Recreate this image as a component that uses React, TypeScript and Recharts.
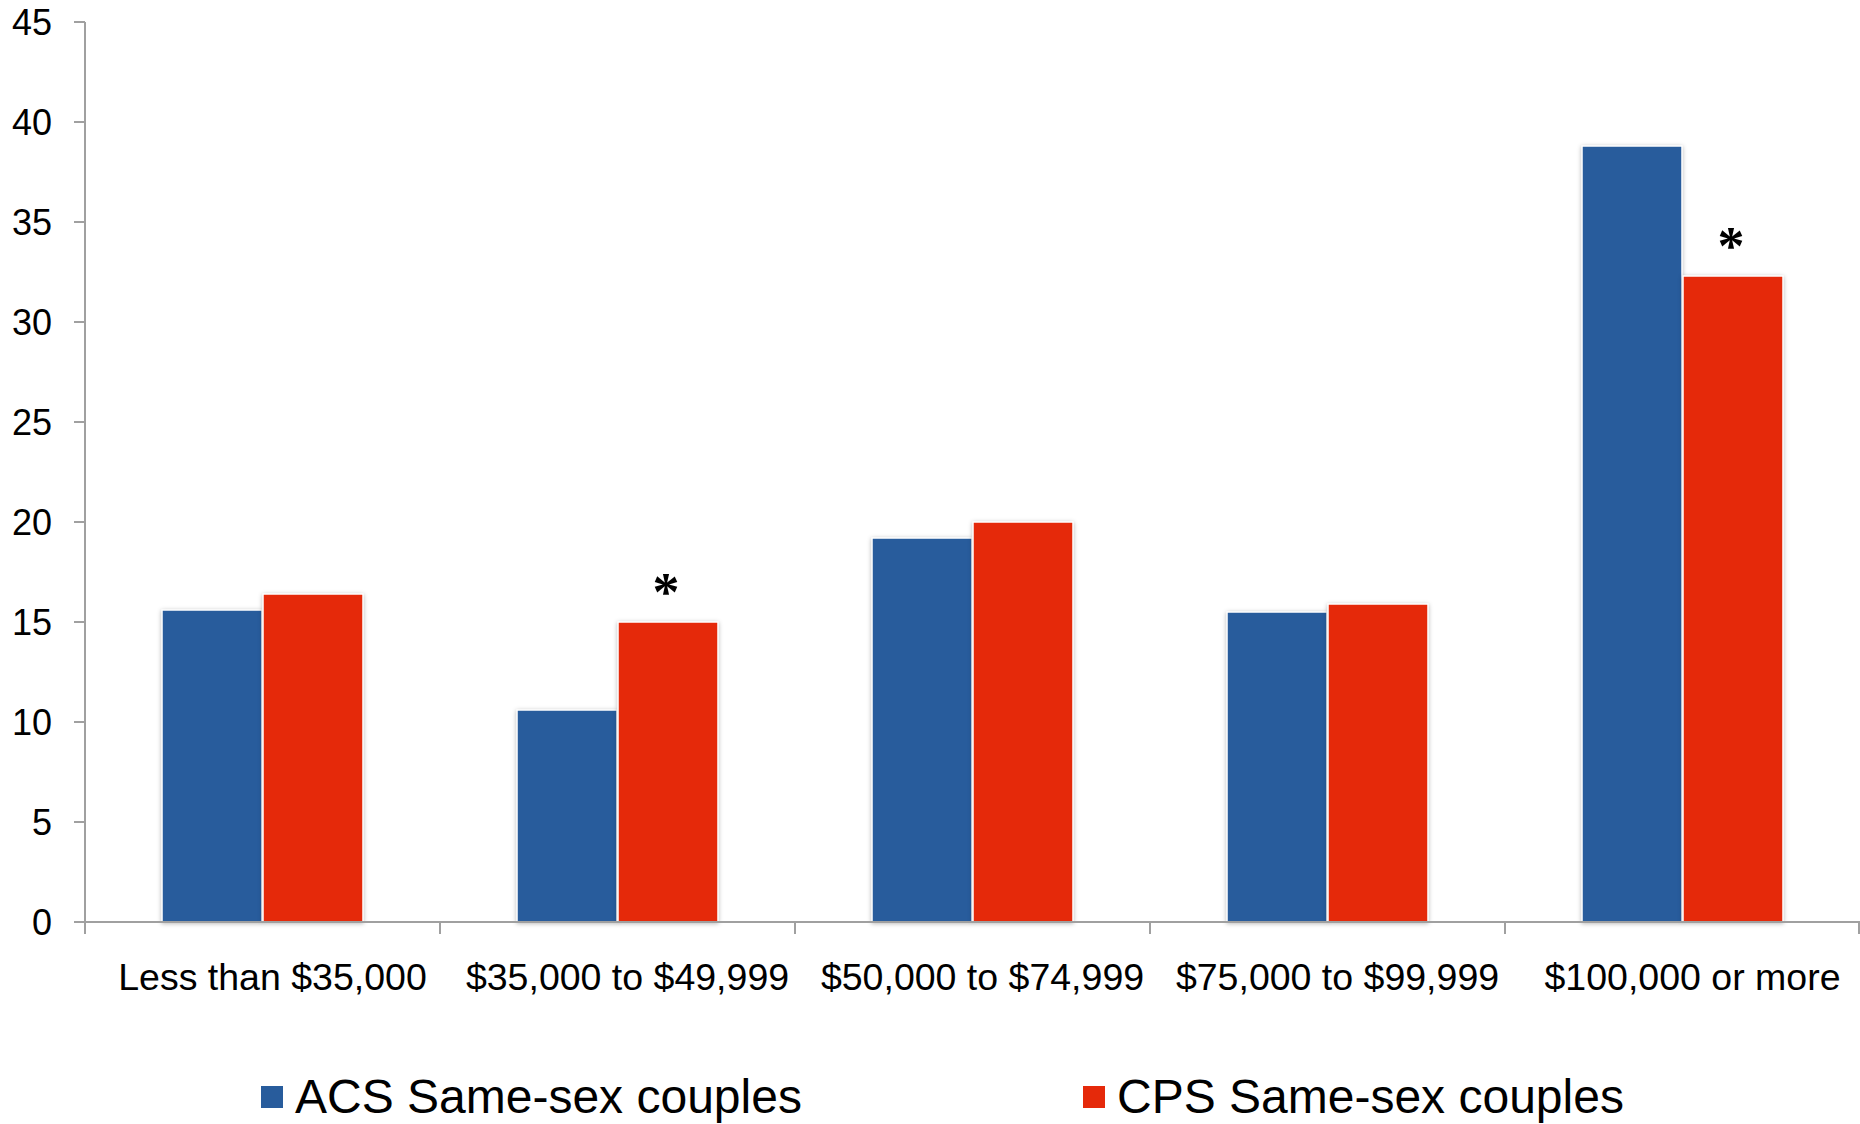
import * as React from 'react';
import {BarChart, Bar, XAxis, YAxis, Legend, LabelList, Rectangle} from 'recharts';

const incomeBands = [
    'Less than $35,000',
    '$35,000 to $49,999',
    '$50,000 to $74,999',
    '$75,000 to $99,999',
    '$100,000 or more'
];
const acsCouples = [15.6, 10.6, 19.2, 15.5, 38.8];
const cpsCouples = [16.4, 15.0, 20.0, 15.9, 32.3];
// CPS estimates that differ significantly from ACS get an asterisk
const cpsSignificant = [false, true, false, false, true];
const yTicks = [0, 5, 10, 15, 20, 25, 30, 35, 40, 45];

const BLUE = '#285C9C';
const RED = '#E5290A';
const AXIS = '#A0A0A0';
const FONT = '"Liberation Sans", Arial, sans-serif';

const data = incomeBands.map((band, i) => ({
    band,
    acs: acsCouples[i],
    cps: cpsCouples[i],
    sig: cpsSignificant[i]
}));

const ShadowBar = (props: any) => (
    <Rectangle
        {...props}
        stroke="#ffffff"
        strokeWidth={1.5}
        style={{filter: 'drop-shadow(0px 1px 2px rgba(0,0,0,0.28))'}}
    />
);

// category labels centred, tick marks on the band edges
const BandTick = (props: any) => {
    const {x, y, payload, index, visibleTicksCount} = props;
    const half = payload.offset || 177.5;
    const axisY = y - 41;
    const last = index === visibleTicksCount - 1;
    return (
        <g>
            <line x1={x - half} x2={x - half} y1={axisY} y2={axisY + 12} stroke={AXIS} strokeWidth={2} />
            {last && <line x1={x + half - 1} x2={x + half - 1} y1={axisY} y2={axisY + 12} stroke={AXIS} strokeWidth={2} />}
            <text x={x + 10} y={y} dy="0.71em" textAnchor="middle" fill="#000" fontSize={37.5} fontFamily={FONT}>
                {payload.value}
            </text>
        </g>
    );
};

const Asterisk = (props: any) => {
    const {x, y, width, index} = props;
    if (!cpsSignificant[index]) return null;
    return (
        <text x={x + width / 2 - 2} y={y - 12} textAnchor="middle" fontSize={54} fontWeight="bold"
            fontFamily='"Liberation Serif", "Times New Roman", serif' fill="#000">
            *
        </text>
    );
};

const legendItems = [
    {label: 'ACS Same-sex couples', color: BLUE, left: 261},
    {label: 'CPS Same-sex couples', color: RED, left: 1083}
];

const renderLegend = () => (
    <div style={{position: 'relative', width: 1860, height: 80}}>
        {legendItems.map((item) => (
            <div key={item.label} style={{position: 'absolute', left: item.left, top: 26, display: 'flex', alignItems: 'center'}}>
                <span style={{display: 'inline-block', width: 22, height: 22, background: item.color, marginRight: 12}} />
                <span style={{fontFamily: FONT, fontSize: 48, color: '#000', lineHeight: '54px'}}>{item.label}</span>
            </div>
        ))}
    </div>
);

export default class App extends React.Component<any, any> {
    public render() {
        return (
            <div style={{position: 'absolute', left: 0, top: 0, width: 1860, height: 1124, background: '#fff'}}>
                <BarChart
                    width={1860}
                    height={1124}
                    data={data}
                    margin={{top: 22, right: 0, bottom: 0, left: 0}}
                    barCategoryGap={77}
                    barGap={1}
                >
                    <XAxis
                        dataKey="band"
                        height={122}
                        stroke={AXIS}
                        strokeWidth={2}
                        tickSize={12}
                        tickMargin={29}
                        tickLine={false}
                        interval={0}
                        tick={<BandTick />}
                    />
                    <YAxis
                        width={85}
                        domain={[0, 45]}
                        ticks={yTicks}
                        stroke={AXIS}
                        strokeWidth={2}
                        tickSize={11}
                        tickMargin={22}
                        tick={{fill: '#000', fontSize: 36, fontFamily: FONT}}
                        interval={0}
                    />
                    <Legend verticalAlign="bottom" height={80} content={renderLegend} />
                    <Bar dataKey="acs" name="ACS Same-sex couples" fill={BLUE} shape={<ShadowBar />} isAnimationActive={false} />
                    <Bar dataKey="cps" name="CPS Same-sex couples" fill={RED} shape={<ShadowBar />} isAnimationActive={false}>
                        <LabelList dataKey="cps" content={<Asterisk />} />
                    </Bar>
                </BarChart>
            </div>
        );
    }
}
